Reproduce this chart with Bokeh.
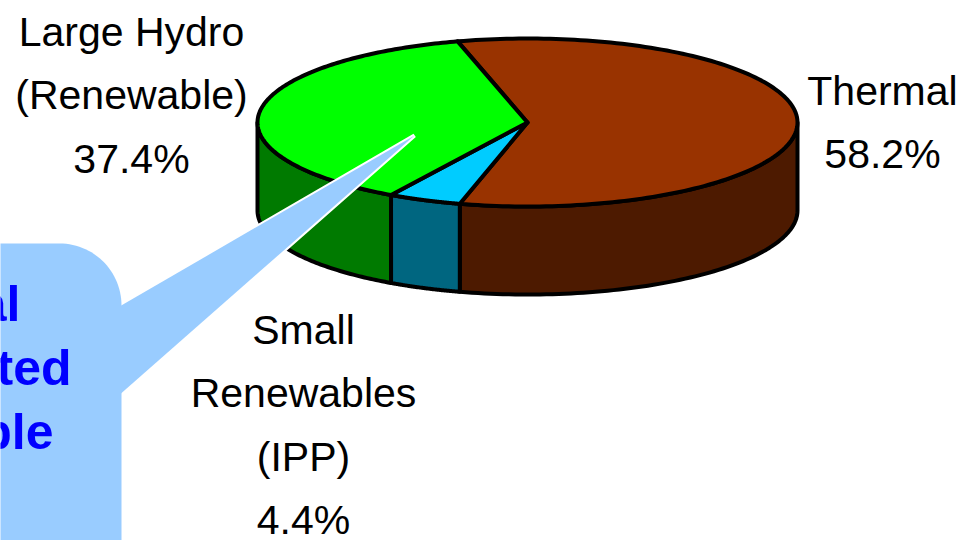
import numpy as np
from bokeh.plotting import figure
from bokeh.embed import file_html
from bokeh.resources import INLINE
from bokeh.core.properties import value
from bokeh.models import Range1d

# Data
categories = ["Thermal", "Small Renewables (IPP)", "Large Hydro (Renewable)"]
shares = [58.2, 4.4, 37.4]
top_colors = ["#993300", "#00ccff", "#00ff00"]
side_colors = ["#4d1a00", "#006680", "#007a00"]

label_lines = [["Thermal", "58.2%"],
               ["Small", "Renewables", "(IPP)", "4.4%"],
               ["Large Hydro", "(Renewable)", "37.4%"]]
callout_lines = ["al", "ted", "ble"]

# Layout (pixels of the 961x540 picture)
CX, CY, RX, RY, DEPTH = 527, 122, 270, 84, 88
START = 105.0
label_anchor = [(882, 90), (303, 329), (131, 31)]
LINE_GAP = 63.5
FONT = value("Liberation Sans")

p = figure(width=961, height=540, output_backend="svg", toolbar_location=None,
           x_axis_location=None, y_axis_location=None, min_border=0,
           x_range=Range1d(0, 961), y_range=Range1d(540, 0), outline_line_color=None)
p.grid.visible = False
p.background_fill_color = "white"

angles = START - np.concatenate([[0], np.cumsum(shares)]) * 3.6
sections = list(zip(angles[:-1], angles[1:]))

# side walls: only the front half of the rim (-180..0 degrees) shows
for (a0, a1), col in zip(sections, side_colors):
    lo, hi = max(min(a0, a1), -180), min(max(a0, a1), 0)
    if lo >= hi:
        continue
    t = np.radians(np.linspace(lo, hi, 80))
    x = CX + RX * np.cos(t)
    y = CY - RY * np.sin(t)
    xs = np.concatenate([x, x[::-1]])
    ys = np.concatenate([y, y[::-1] + DEPTH])
    p.patch(xs, ys, fill_color=col, line_color="black", line_width=4, line_join="round")

# top faces
for (a0, a1), col in zip(sections, top_colors):
    t = np.radians(np.linspace(a0, a1, 160))
    xs = np.concatenate([[CX], CX + RX * np.cos(t)])
    ys = np.concatenate([[CY], CY - RY * np.sin(t)])
    p.patch(xs, ys, fill_color=col, line_color="black", line_width=4, line_join="round")

# labels
for lines, (lx, ly) in zip(label_lines, label_anchor):
    p.text([lx] * len(lines), [ly + i * LINE_GAP for i in range(len(lines))], text=lines,
           text_font=FONT, text_font_size="41px", text_color="black",
           text_align="center", text_baseline="middle")

# callout
BLUE = "#99ccff"
p.patch([121, 414, 121], [305, 135, 393], fill_color=BLUE, line_color="white", line_width=4,
        line_join="miter")
p.patch([100, 414, 100], [317, 135, 411], fill_color=BLUE, line_color=None)
t = np.radians(np.linspace(90, 0, 30))
cx_ = 121 - 62 + 62 * np.cos(t)
cy_ = 243 + 62 - 62 * np.sin(t)
p.patch(np.concatenate([[-6], cx_, [121, -6]]), np.concatenate([[243], cy_, [546, 546]]),
        fill_color=BLUE, line_color=None)
p.text([20, 71, 53], [303, 367, 431], text=callout_lines, text_font=FONT,
       text_font_style="bold", text_font_size="50px", text_color="#0000ff",
       text_align="right", text_baseline="middle")

open("out.html", "w").write(file_html(p, INLINE))
